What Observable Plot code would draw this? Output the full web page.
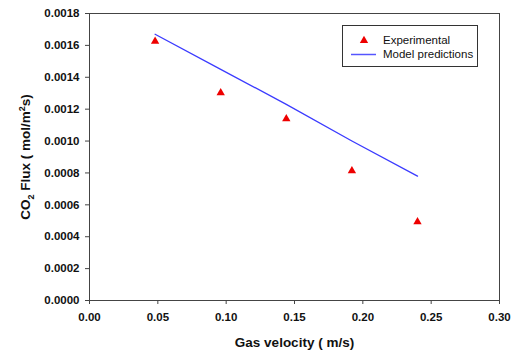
<!DOCTYPE html>
<html>
<head>
<meta charset="utf-8">
<script src="https://cdn.jsdelivr.net/npm/d3@7"></script>
<script src="https://cdn.jsdelivr.net/npm/@observablehq/plot@0.6"></script>
<style>
  html, body { margin: 0; padding: 0; background: #fff; }
  #chart { position: relative; width: 514px; height: 352px; font-family: "Liberation Sans", Arial, sans-serif; }
  #legend { position: absolute; left: 342px; top: 25px; width: 136px; height: 42px; border: 1px solid #333; box-sizing: border-box; background: #fff; font-size: 11.5px; color: #111; }
  #legend .row { position: absolute; left: 0; height: 14px; display: flex; align-items: center; }
  #legend svg { position: absolute; left: 0; top: 0; }
</style>
</head>
<body>
<div id="chart"></div>
<script>
const velocity = [0.048, 0.096, 0.144, 0.192, 0.240];
const experimental = [0.001626, 0.001303, 0.00114, 0.000813, 0.000494];
const model = [0.00167, 0.00145, 0.00123, 0.00100, 0.00078];
const xTicks = [0, 0.05, 0.10, 0.15, 0.20, 0.25, 0.30];
const yTicks = [0, 0.0002, 0.0004, 0.0006, 0.0008, 0.0010, 0.0012, 0.0014, 0.0016, 0.0018];
const seriesNames = ["Experimental", "Model predictions"];

const expData = velocity.map((v, i) => ({x: v, y: experimental[i]}));
const modelData = velocity.map((v, i) => ({x: v, y: model[i]}));

const plot = Plot.plot({
  width: 514,
  height: 352,
  marginLeft: 89,
  marginRight: 15,
  marginTop: 13,
  marginBottom: 52,
  style: {fontFamily: "'Liberation Sans', Arial, sans-serif", fontSize: "11.5px", fontWeight: "bold", color: "#111", background: "#fff"},
  x: {domain: [0, 0.30], ticks: xTicks, tickFormat: d3.format(".2f"), tickSize: 4, tickPadding: 8, label: null},
  y: {domain: [0, 0.0018], ticks: yTicks, tickFormat: d3.format(".4f"), tickSize: 4, tickPadding: 6, label: null},
  marks: [
    Plot.frame({stroke: "#444", strokeWidth: 1}),
    Plot.axisX({ticks: xTicks, tickFormat: d3.format(".2f"), tickSize: 4, tickPadding: 8, stroke: "#444", label: null}),
    Plot.axisY({ticks: yTicks, tickFormat: d3.format(".4f"), tickSize: 4, tickPadding: 6, stroke: "#444", label: null}),
    Plot.line(modelData, {x: "x", y: "y", stroke: "#3b3bff", strokeWidth: 1.3}),
    Plot.dot(expData, {x: "x", y: "y", symbol: "triangle", r: 3.1, fill: "#ee0000", stroke: "none"}),
    Plot.text(["Gas velocity ( m/s)"], {frameAnchor: "bottom", dy: 42, lineAnchor: "middle", textAnchor: "middle", fontSize: 13.5, fontWeight: "bold", fill: "#111"}),
    Plot.text(["CO2 Flux ( mol/m2s)"], {frameAnchor: "left", dx: -64, rotate: -90, lineAnchor: "middle", textAnchor: "middle", fontSize: 13.5, fontWeight: "bold", fill: "#111"})
  ]
});

document.getElementById("chart").appendChild(plot);

// Subscript / superscript in y-axis label
d3.select(plot).selectAll("text").each(function() {
  const t = d3.select(this);
  if (t.text() === "CO2 Flux ( mol/m2s)") {
    t.text(null);
    t.append("tspan").text("CO");
    t.append("tspan").attr("font-size", "9px").attr("dy", "4").text("2");
    t.append("tspan").attr("dy", "-4").text(" Flux ( mol/m");
    t.append("tspan").attr("font-size", "9px").attr("dy", "-5").text("2");
    t.append("tspan").attr("dy", "5").text("s)");
  }
});

// Legend
const legend = document.createElement("div");
legend.id = "legend";
legend.innerHTML = `
  <svg width="136" height="42">
    <path d="${d3.symbol(d3.symbolTriangle, 30)()}" transform="translate(21,14.5)" fill="#ee0000"/>
    <line x1="8" x2="33" y1="28.5" y2="28.5" stroke="#5555ff" stroke-width="1.5"/>
  </svg>
  <div class="row" style="left:40px; top:7px;">${seriesNames[0]}</div>
  <div class="row" style="left:40px; top:21px;">${seriesNames[1]}</div>`;
document.getElementById("chart").appendChild(legend);
</script>
</body>
</html>
